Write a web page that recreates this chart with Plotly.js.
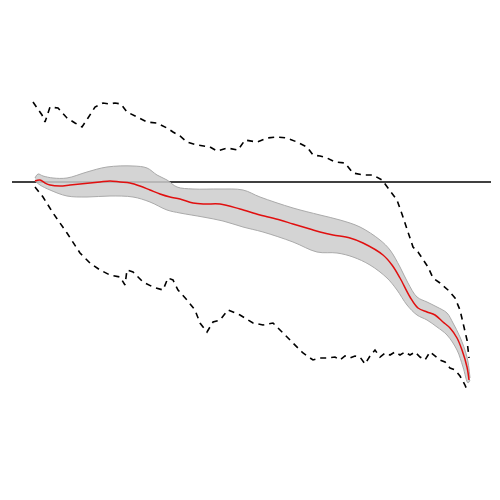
<!DOCTYPE html>
<html>
<head>
<meta charset="utf-8">
<script src="https://cdn.plot.ly/plotly-3.0.1.min.js"></script>
<style>
  html, body { margin: 0; padding: 0; background: #fff; }
  #chart { width: 500px; height: 500px; }
</style>
</head>
<body>
<div id="chart"></div>
<script>
// ------------------------
// Data (x = step, y = offset from the zero reference)
// ------------------------
var upperX = [33, 38, 42, 45, 50, 58, 67, 75, 82, 88, 95, 103, 109, 115, 121, 127, 137, 147, 157, 167, 173, 180, 187, 197, 210, 217, 227, 238, 245, 257, 267, 277, 287, 297, 307, 313, 320, 327, 335, 345, 353, 363, 373, 382, 388, 397, 403, 408, 413, 418, 423, 428, 433, 440, 448, 455, 460, 463, 467, 469];
var upperY = [80, 72, 67, 60, 75, 74, 64, 59, 55, 64, 75, 79, 78, 79, 78, 70, 65, 60, 59, 54, 50, 46, 40, 37, 35, 31, 34, 32, 42, 40, 44, 45, 44, 40, 35, 27, 26, 24, 20, 19, 9, 7, 7, 2, -6, -18, -35, -51, -65, -70, -78, -85, -96, -101, -108, -116, -128, -141, -158, -176];

var lowerX = [35, 43, 53, 67, 80, 90, 100, 110, 120, 125, 127, 133, 143, 153, 163, 168, 173, 178, 187, 195, 200, 207, 213, 220, 228, 240, 253, 263, 273, 283, 293, 303, 313, 320, 327, 335, 340, 345, 350, 355, 360, 365, 370, 375, 380, 385, 390, 395, 400, 405, 410, 415, 420, 425, 430, 435, 440, 445, 450, 455, 460, 465, 467];
var lowerY = [-5, -15, -31, -51, -71, -81, -88, -93, -95, -103, -88, -90, -100, -105, -108, -96, -98, -108, -118, -128, -141, -150, -140, -138, -128, -133, -141, -143, -141, -151, -161, -171, -178, -176, -176, -175, -178, -174, -176, -174, -175, -182, -174, -168, -175, -171, -173, -170, -173, -170, -173, -170, -175, -178, -170, -174, -178, -180, -186, -188, -194, -203, -208];

var fitX = [35, 40, 45, 50, 60, 70, 80, 90, 100, 110, 120, 130, 140, 150, 160, 170, 180, 193, 205, 220, 240, 260, 280, 293, 310, 320, 333, 350, 363, 383, 392, 400, 410, 418, 427, 435, 443, 450, 457, 462, 467, 469];
var fitY = [1, 2, -1, -3, -4, -3, -2, -1, 0, 1, 0, -1, -4, -8, -12, -15, -17, -21, -22, -22, -27, -33, -38, -42, -47, -50, -53, -56, -61, -73, -83, -96, -115, -126, -130, -133, -140, -146, -156, -168, -185, -198];

var bandHiX = [35, 38, 43, 53, 67, 87, 107, 133, 147, 157, 167, 177, 193, 220, 243, 260, 293, 320, 340, 360, 380, 390, 400, 408, 417, 427, 437, 447, 453, 460, 467, 470];
var bandHiY = [4, 8, 6, 4, 4, 10, 15, 16, 14, 7, 2, -5, -7, -7, -8, -15, -26, -33, -38, -45, -58, -68, -85, -101, -115, -120, -125, -131, -141, -155, -175, -196];

var bandLoX = [35, 40, 50, 67, 87, 110, 133, 150, 167, 180, 203, 223, 243, 263, 293, 317, 337, 353, 370, 387, 397, 407, 417, 427, 437, 447, 457, 463, 468, 470];
var bandLoY = [1, -3, -8, -14, -15, -14, -15, -20, -28, -31, -35, -39, -45, -50, -60, -70, -71, -75, -83, -96, -108, -123, -133, -138, -145, -153, -168, -185, -201, -198];

var refX = [12, 491];
var refY = [0, 0];

var band = "rgba(205,205,205,0.85)";
var bandEdge = "rgb(170,170,170)";

var traces = [
  { x: refX, y: refY, mode: "lines", line: { color: "black", width: 1.5 }, hoverinfo: "skip" },
  { x: bandLoX, y: bandLoY, mode: "lines", line: { color: bandEdge, width: 1, shape: "spline" }, hoverinfo: "skip" },
  { x: bandHiX, y: bandHiY, mode: "lines", fill: "tonexty", fillcolor: band, line: { color: bandEdge, width: 1, shape: "spline" }, hoverinfo: "skip" },
  { x: fitX, y: fitY, mode: "lines", line: { color: "rgb(225,15,15)", width: 1.5, shape: "spline" } },
  { x: upperX, y: upperY, mode: "lines", line: { color: "black", width: 1.6, dash: "6px,5px" } },
  { x: lowerX, y: lowerY, mode: "lines", line: { color: "black", width: 1.6, dash: "6px,5px" } }
];

var layout = {
  width: 500, height: 500,
  margin: { l: 0, r: 0, t: 0, b: 0 },
  showlegend: false,
  paper_bgcolor: "white", plot_bgcolor: "white",
  xaxis: { range: [0, 500], visible: false, fixedrange: true },
  yaxis: { range: [-318, 182], visible: false, fixedrange: true }
};

Plotly.newPlot("chart", traces, layout, { staticPlot: true });
</script>
</body>
</html>
